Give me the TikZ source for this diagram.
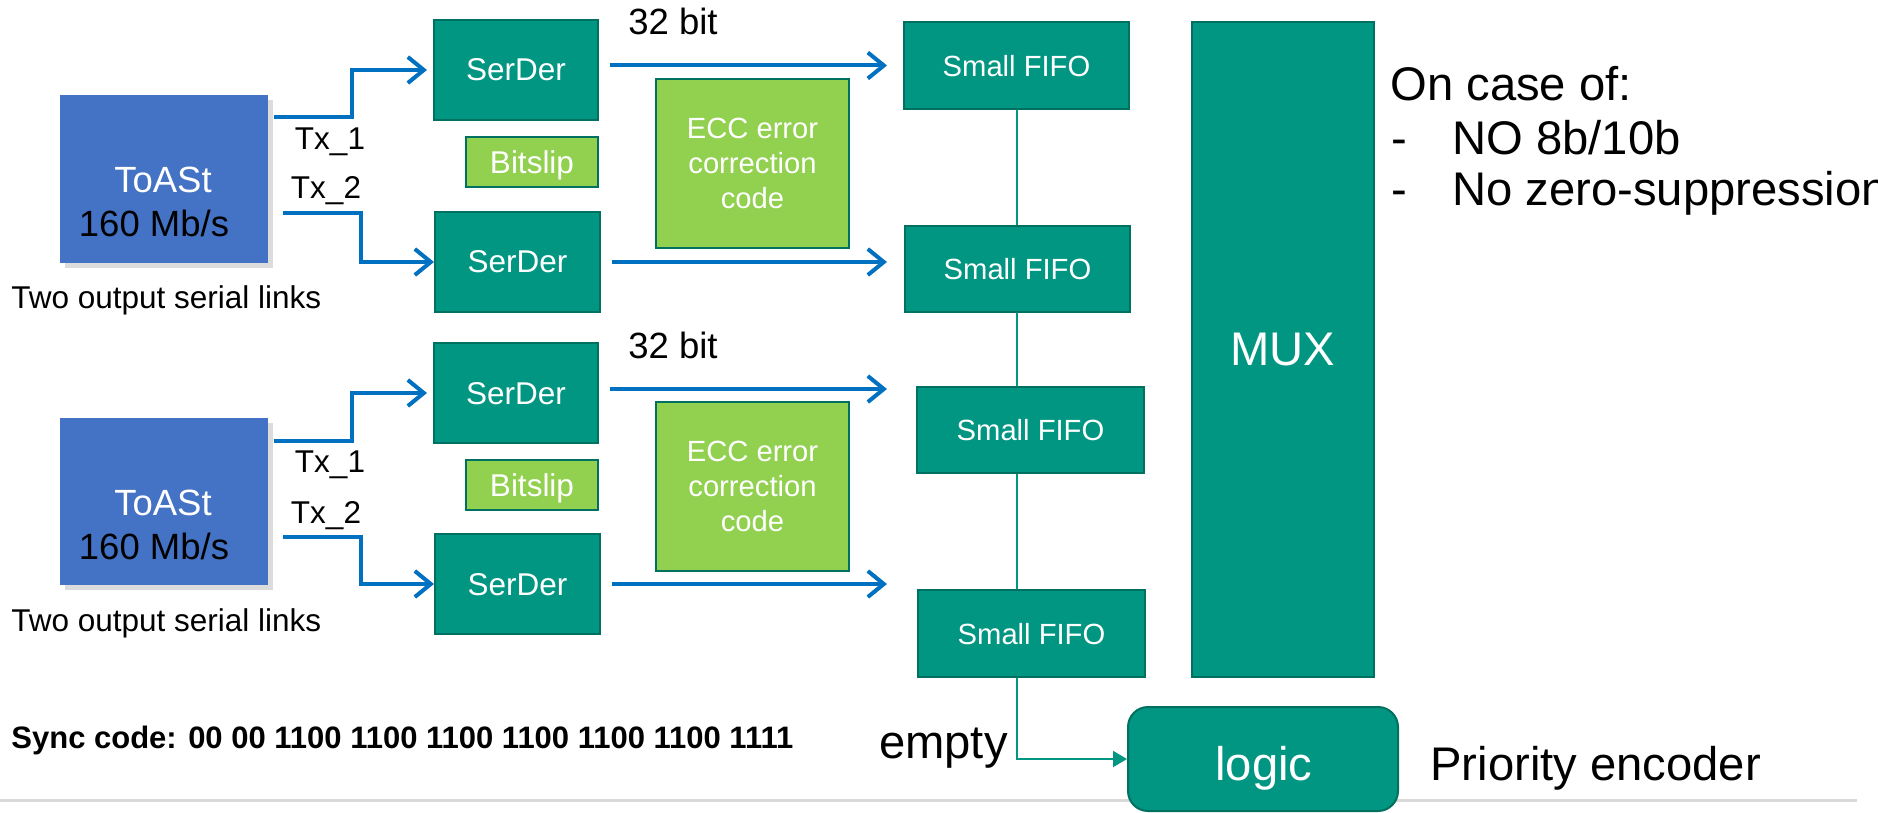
\documentclass[tikz,border=0pt]{standalone}
\usepackage{fontspec}
\setmainfont{Liberation Sans}
\usetikzlibrary{arrows.meta,shadows,calc,backgrounds}
\definecolor{toastblue}{RGB}{68,114,196}
\definecolor{fifoteal}{RGB}{0,150,130}
\definecolor{tealedge}{RGB}{0,112,96}
\definecolor{limegreen}{RGB}{146,208,80}
\definecolor{linkblue}{RGB}{0,112,192}
\definecolor{rulegray}{RGB}{217,217,217}

\tikzset{
  fA/.style={font=\fontsize{15.75pt}{19pt}\selectfont},
  fB/.style={font=\fontsize{18.25pt}{22pt}\selectfont},
  fC/.style={font=\fontsize{14.6pt}{17.5pt}\selectfont},
  fD/.style={font=\fontsize{23.6pt}{26pt}\selectfont},
  fS/.style={font=\fontsize{15.5pt}{19pt}\selectfont\bfseries},
  block/.style={draw=tealedge, line width=1pt, fill=fifoteal, text=white,
                inner sep=0pt, align=center, text depth=0pt},
  aux/.style={draw=tealedge, line width=1.4pt, fill=limegreen, text=white,
              inner sep=0pt, align=center, text depth=0pt},
  chip/.style={fill=toastblue, inner sep=0pt,
               drop shadow={opacity=0.28, shadow xshift=2.5pt, shadow yshift=-2.5pt}},
  lbl/.style={inner sep=0pt, text depth=0pt},
  link/.style={draw=linkblue, line width=2pt,
               -{Straight Barb[length=8pt,width=13pt]}},
  flag/.style={draw=fifoteal, line width=1pt},
}

\begin{document}
\begin{tikzpicture}[x=0.5pt,y=-0.5pt]
\useasboundingbox (0,0) rectangle (1878,813);

% ---------- ToASt chips ----------
\node[chip, minimum width=104pt, minimum height=84pt] (tA) at (164,179) {};
\node[chip, minimum width=104pt, minimum height=83.5pt] (tB) at (164,501.5) {};
\node[lbl,fB,text=white] (tAname) at (163,180) {ToASt};
\node[lbl,fB] (tArate) at (154,223) {160 Mb/s};
\node[lbl,fB,text=white] (tBname) at (163,503) {ToASt};
\node[lbl,fB] (tBrate) at (154,546) {160 Mb/s};

% ---------- deserialisers ----------
\node[block,fA, minimum width=82pt, minimum height=50pt] (s1) at (516,70) {SerDer};
\node[block,fA, minimum width=82.5pt, minimum height=50pt] (s2) at (517.5,262) {SerDer};
\node[block,fA, minimum width=82pt, minimum height=50pt] (s3) at (516,393) {SerDer};
\node[block,fA, minimum width=82.5pt, minimum height=50pt] (s4) at (517.5,584) {SerDer};

\node[aux,fA, minimum width=66pt, minimum height=25pt] (b1) at (532,162) {Bitslip};
\node[aux,fA, minimum width=66pt, minimum height=25pt] (b2) at (532,485) {Bitslip};

\node[aux,fC, minimum width=96.5pt, minimum height=84.5pt] (e1) at (752.5,163.5)
  {ECC error\\correction\\code};
\node[aux,fC, minimum width=96.5pt, minimum height=84.5pt] (e2) at (752.5,486.5)
  {ECC error\\correction\\code};

% ---------- FIFOs, MUX, logic ----------
\node[block,fC, minimum width=112.5pt, minimum height=43.5pt] (f1) at (1016.5,65.5) {Small FIFO};
\node[block,fC, minimum width=112.5pt, minimum height=43pt] (f2) at (1017.5,269) {Small FIFO};
\node[block,fC, minimum width=113.5pt, minimum height=43pt] (f3) at (1030.5,430) {Small FIFO};
\node[block,fC, minimum width=113.5pt, minimum height=43.5pt] (f4) at (1031.5,633.5) {Small FIFO};

\node[block,fD, minimum width=91pt, minimum height=327.5pt] (mux) at (1283,349.5) {MUX};

\node[block, rounded corners=10pt, minimum width=135pt, minimum height=52pt] (lg) at (1263,759) {};
\node[lbl,fD,text=white] (lgtext) at (1264,763) {logic};

% ---------- background wiring ----------
\begin{scope}[on background layer]
  \coordinate (ruleL) at (0,800);
  \coordinate (ruleR) at (1857,800);
  \draw[rulegray, line width=1.5pt] (ruleL) -- (ruleR);
  \draw[flag, -{Triangle[length=7pt,width=8pt]}]
    (f1.south) -- (f1.south |- lg.west) -- (lg.west);
\end{scope}

% ---------- serial links ----------
\coordinate (tAo1) at (274,117);
\coordinate (tAo2) at (283,213);
\coordinate (tBo1) at (274,441);
\coordinate (tBo2) at (283,537);
\draw[link] (tAo1) -- ++(78,0) |- ([xshift=-3pt]s1.west);
\draw[link] (tAo2) -- ++(78,0) |- (s2.west);
\draw[link] (tBo1) -- ++(78,0) |- ([xshift=-3pt]s3.west);
\draw[link] (tBo2) -- ++(78,0) |- (s4.west);

% ---------- 32 bit words ----------
\draw[link] ($(s1.east |- f1.west)+(5.5pt,0)$) -- ($(f1.west)+(-8pt,0)$);
\draw[link] ($(s2.east)+(5.5pt,0)$) -- ($(s2.east -| f2.west)+(-8.5pt,0)$);
\draw[link] ($(s3.east)+(5.5pt,2pt)$) -- ($(s3.east -| f3.west)+(-14.5pt,2pt)$);
\draw[link] ($(s4.east)+(5.5pt,0)$) -- ($(s4.east -| f4.west)+(-15pt,0)$);

% ---------- labels ----------
\node[lbl,fA] (tx1a) at (330,139) {Tx\_1};
\node[lbl,fA] (tx2a) at (326,188) {Tx\_2};
\node[lbl,fA] (tx1b) at (330,462) {Tx\_1};
\node[lbl,fA] (tx2b) at (326,512) {Tx\_2};
\node[lbl,fA,anchor=west] (twoA) at (11,297) {Two output serial links};
\node[lbl,fA,anchor=west] (twoB) at (11,620) {Two output serial links};
\node[lbl,fB] (bitsA) at (673,21) {32 bit};
\node[lbl,fB] (bitsB) at (673,345) {32 bit};
\node[lbl,fS,anchor=west] (sync) at (11,737)
  {Sync code: 00 00 1100 1100 1100 1100 1100 1100 1111};
\node[lbl,fD,anchor=east] (empty) at (1008,743) {empty};
\node[lbl,fD,anchor=west] (prio) at (1430,763) {Priority encoder};

\node[lbl,fD,anchor=west] (case) at (1390,83) {On case of:};
\node[lbl,fD,anchor=west] (case1) at (1391,137) {\hbox to 30.5pt{-\hfil}NO 8b/10b};
\node[lbl,fD,anchor=west] (case2) at (1391,188) {\hbox to 30.5pt{-\hfil}No zero-suppression};
\end{tikzpicture}
\end{document}
